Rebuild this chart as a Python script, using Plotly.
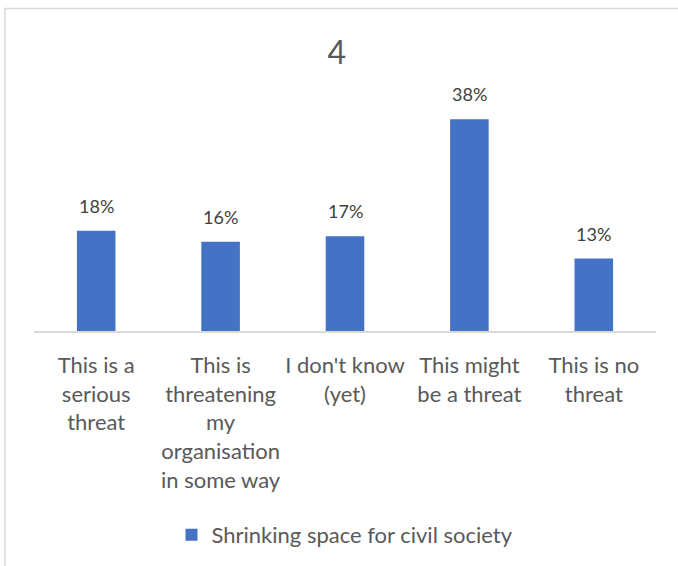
import plotly.graph_objects as go

categories = [
    "This is a<br>serious<br>threat",
    "This is<br>threatening<br>my<br>organisation<br>in some way",
    "I don't know<br>(yet)",
    "This might<br>be a threat",
    "This is no<br>threat",
]
values = [0.18, 0.16, 0.17, 0.38, 0.13]
labels = ["18%", "16%", "17%", "38%", "13%"]
series_name = "Shrinking space for civil society"
title_text = "4"

W, H = 678, 566
L, R, T, B = 34, 22, 108, 234
pw, ph = W - L - R, H - T - B

fig = go.Figure()
fig.add_trace(go.Bar(
    x=categories, y=values, name=series_name,
    marker=dict(color="#4472C4", line=dict(width=0)),
    hoverinfo="x+y",
))

def px_x(p):
    return (p - L) / pw

def px_y(p):
    return (H - B - p) / ph

annotations = [
    dict(x=c, y=v, xref="x", yref="y", text=lab, showarrow=False,
         yanchor="bottom", yshift=12,
         font=dict(family="Lato", size=18, color="#404040"))
    for c, v, lab in zip(categories, values, labels)
]

fig.update_layout(
    width=W, height=H,
    margin=dict(l=L, r=R, t=T, b=B),
    paper_bgcolor="white", plot_bgcolor="white",
    bargap=0.69,
    showlegend=True,
    title=dict(text=title_text, x=px_x(343), xanchor="center",
               y=1 - 53 / H, yanchor="middle",
               font=dict(family="Lato", size=32, color="#595959")),
    legend=dict(orientation="h", x=px_x(345), xanchor="center",
                y=px_y(535), yanchor="middle",
                font=dict(family="Lato", size=22, color="#595959"),
                itemwidth=30),
    xaxis=dict(showgrid=False, showline=True, linecolor="#D9D9D9", linewidth=1.5,
               ticks="", tickfont=dict(family="Lato", size=22, color="#595959"),
               ticklabelstandoff=14, fixedrange=True),
    yaxis=dict(range=[0, 0.40], visible=False, showgrid=False, fixedrange=True),
    annotations=annotations,
    shapes=[
        dict(type="line", xref="paper", yref="paper",
             x0=px_x(4.5), x1=px_x(W + 5), y0=px_y(8), y1=px_y(8),
             line=dict(color="#D9D9D9", width=1.5)),
        dict(type="line", xref="paper", yref="paper",
             x0=px_x(5), x1=px_x(5), y0=px_y(8), y1=px_y(H + 5),
             line=dict(color="#D9D9D9", width=1.5)),
    ],
)

fig.write_html(
    "out.html",
    config={"displayModeBar": False},
    post_script="document.body.style.margin='0';document.body.style.overflow='hidden';",
)
